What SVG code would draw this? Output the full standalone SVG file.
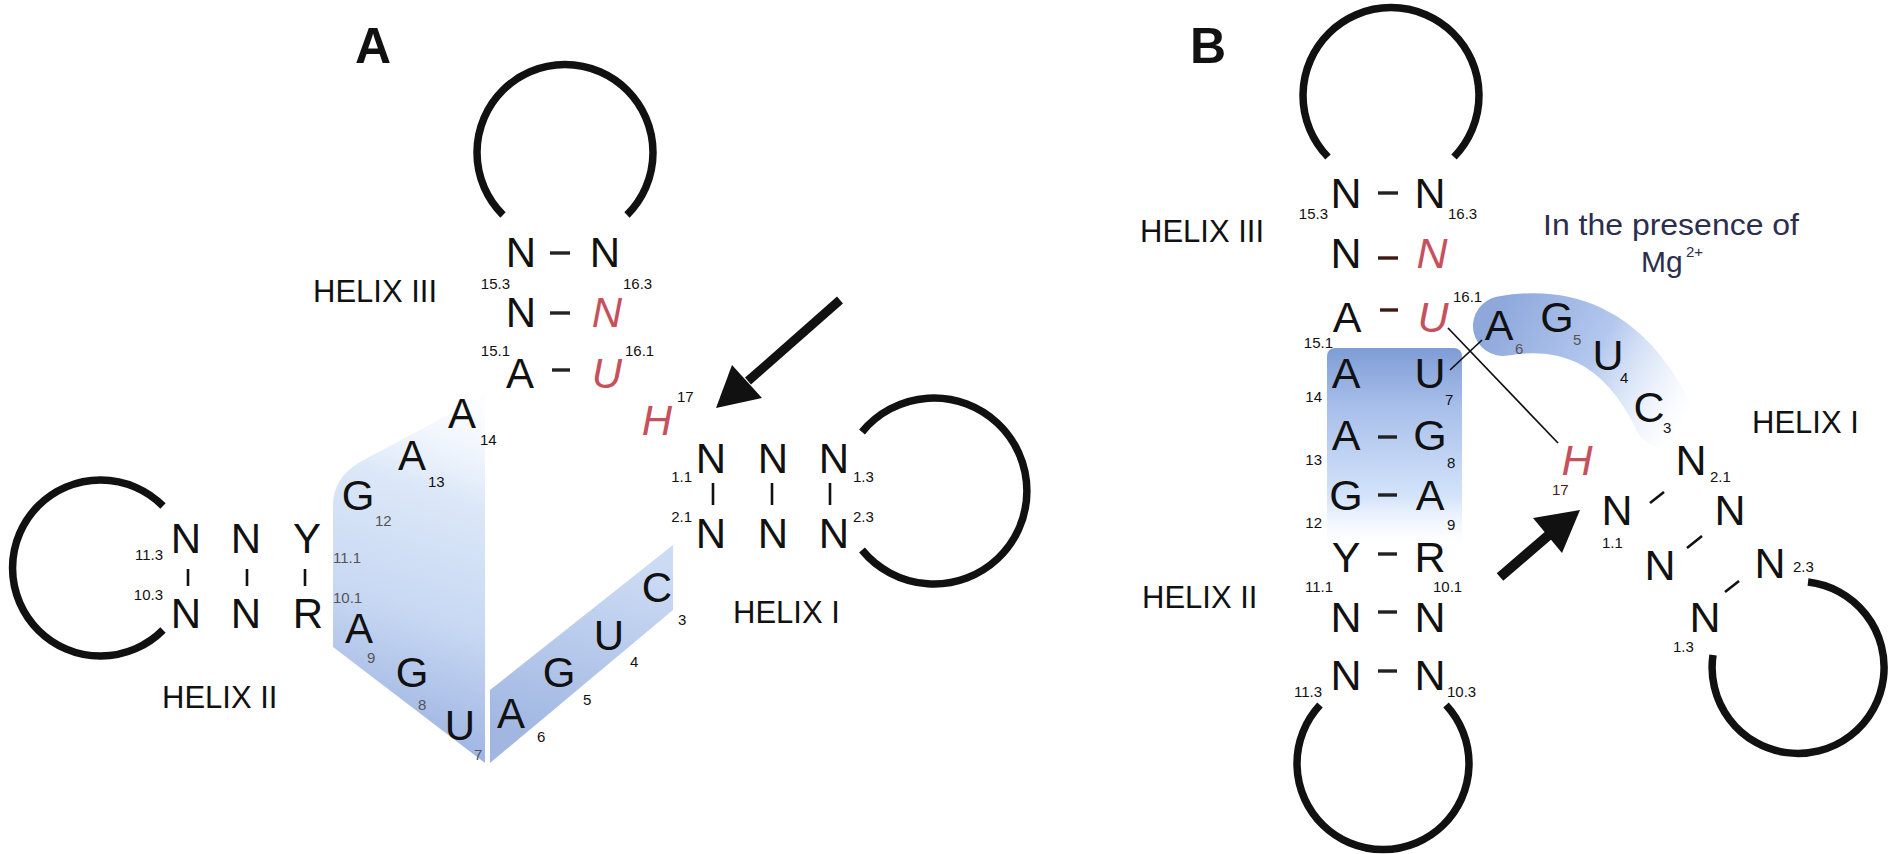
<svg xmlns="http://www.w3.org/2000/svg" width="1888" height="854" viewBox="0 0 1888 854">
<defs>
<style>
text{font-family:"Liberation Sans",Arial,sans-serif;fill:#111}
.b{font-size:42px;text-anchor:middle}
.bb{font-size:43px;text-anchor:middle}
.r{fill:#c6505c;font-style:italic}
.s{font-size:15px}
.g{fill:#555}
.e{text-anchor:end}
.h{font-size:31px}
.t{font-size:50px;font-weight:bold;text-anchor:middle}
.loop{fill:none;stroke:#111;stroke-width:7.5}
.d{stroke:#222;stroke-width:3.4}
.dr{stroke:#3b1a12;stroke-width:3.4}
.v{stroke:#111;stroke-width:2.6}
.thin{stroke:#111;stroke-width:1.7;fill:none}
</style>
<linearGradient id="gL" x1="485" y1="395" x2="380" y2="730" gradientUnits="userSpaceOnUse">
<stop offset="0" stop-color="#f4f8fe" stop-opacity="0.2"/>
<stop offset="0.3" stop-color="#dce8f8"/>
<stop offset="0.65" stop-color="#c8d8f3"/>
<stop offset="1" stop-color="#9fb5e2"/>
</linearGradient>
<linearGradient id="gR" x1="600" y1="560" x2="560" y2="740" gradientUnits="userSpaceOnUse">
<stop offset="0" stop-color="#ccdbf4"/>
<stop offset="1" stop-color="#a1b7e2"/>
</linearGradient>
<linearGradient id="gBox" x1="0" y1="348" x2="0" y2="545" gradientUnits="userSpaceOnUse">
<stop offset="0" stop-color="#7f9cd6"/>
<stop offset="0.3" stop-color="#a8bfea"/>
<stop offset="0.75" stop-color="#d3e3fa"/>
<stop offset="1" stop-color="#eaf2fd" stop-opacity="0"/>
</linearGradient>
<linearGradient id="gW" x1="1490" y1="320" x2="1680" y2="430" gradientUnits="userSpaceOnUse">
<stop offset="0" stop-color="#8ea8dc"/>
<stop offset="0.5" stop-color="#b4c8ee"/>
<stop offset="1" stop-color="#dfeafa" stop-opacity="0"/>
</linearGradient>
</defs>
<rect width="1888" height="854" fill="#ffffff"/>

<g id="panel-A-label"><text class="t" x="373" y="63">A</text></g>
<g id="panel-B-label"><text class="t" x="1208" y="63">B</text></g>

<!-- Panel A -->
<g id="A-blue">
<path d="M333 505 Q333 478 360 462 L485 395 L485 763 L333 647 Z" fill="url(#gL)"/>
<path d="M490 690 L673 545 L673 610 L490 763 Z" fill="url(#gR)"/>
</g>

<g id="A-helix-III">
<path class="loop" d="M503 215 A88 88 0 1 1 627 215"/>
<text class="b" x="521" y="267">N</text><line class="d" x1="550" y1="253" x2="570" y2="253"/><text class="b" x="605" y="267">N</text>
<text class="b" x="521" y="327">N</text><line class="d" x1="550" y1="313" x2="570" y2="313"/><text class="b r" x="607" y="327">N</text>
<text class="b" x="520" y="388">A</text><line class="d" x1="552" y1="370" x2="570" y2="370"/><text class="b r" x="607" y="388">U</text>
<text class="s e" x="510" y="289">15.3</text><text class="s" x="623" y="289">16.3</text>
<text class="s e" x="510" y="356">15.1</text><text class="s" x="625" y="356">16.1</text>
<text class="h" x="313" y="302">HELIX III</text>
</g>

<g id="A-helix-II">
<path class="loop" d="M163 506 A88 88 0 1 0 163 630"/>
<text class="b" x="186" y="553">N</text><text class="b" x="246" y="553">N</text><text class="b" x="307" y="553">Y</text>
<line class="v" x1="188" y1="569" x2="188" y2="586"/><line class="v" x1="247" y1="569" x2="247" y2="586"/><line class="v" x1="305" y1="569" x2="305" y2="586"/>
<text class="b" x="186" y="628">N</text><text class="b" x="246" y="628">N</text><text class="b" x="308" y="628">R</text>
<text class="s e" x="163" y="560">11.3</text><text class="s e" x="163" y="600">10.3</text>
<text class="s g" x="333" y="563">11.1</text><text class="s g" x="333" y="603">10.1</text>
<text class="h" x="162" y="708">HELIX II</text>
</g>

<g id="A-J23">
<text class="b" x="462" y="428">A</text><text class="s" x="480" y="445">14</text>
<text class="b" x="412" y="470">A</text><text class="s" x="428" y="487">13</text>
<text class="b" x="358" y="510">G</text><text class="s g" x="375" y="526">12</text>
<text class="b" x="359" y="643">A</text><text class="s g" x="367" y="663">9</text>
<text class="b" x="412" y="687">G</text><text class="s g" x="418" y="710">8</text>
<text class="b" x="460" y="740">U</text><text class="s g" x="474" y="760">7</text>
</g>

<g id="A-J12">
<text class="b" x="511" y="728">A</text><text class="s" x="537" y="742">6</text>
<text class="b" x="559" y="687">G</text><text class="s" x="583" y="705">5</text>
<text class="b" x="609" y="650">U</text><text class="s" x="630" y="667">4</text>
<text class="b" x="657" y="602">C</text><text class="s" x="678" y="625">3</text>
</g>

<g id="A-H17">
<text class="b r" x="657" y="435">H</text><text class="s" x="677" y="402">17</text>
</g>

<g id="A-helix-I">
<path class="loop" d="M862 432 A93 93 0 1 1 862 550"/>
<text class="b" x="711" y="473">N</text><text class="b" x="773" y="473">N</text><text class="b" x="834" y="473">N</text>
<line class="v" x1="713" y1="483" x2="713" y2="505"/><line class="v" x1="772" y1="483" x2="772" y2="505"/><line class="v" x1="830" y1="483" x2="830" y2="505"/>
<text class="b" x="711" y="548">N</text><text class="b" x="773" y="548">N</text><text class="b" x="834" y="548">N</text>
<text class="s e" x="692" y="482">1.1</text><text class="s e" x="692" y="522">2.1</text>
<text class="s" x="853" y="482">1.3</text><text class="s" x="853" y="522">2.3</text>
<text class="h" x="733" y="623">HELIX I</text>
</g>

<!-- Panel B -->
<g id="B-blue">
<rect x="1327" y="348" width="135" height="200" rx="8" fill="url(#gBox)"/>
<path d="M1503 326 C1560 316 1622 330 1664 418" fill="none" stroke="url(#gW)" stroke-width="60" stroke-linecap="round"/>
</g>

<g id="B-helix-III">
<path class="loop" d="M1328 157 A88 88 0 1 1 1454 157"/>
<text class="bb" x="1346" y="208">N</text><line class="d" x1="1378" y1="193" x2="1398" y2="193"/><text class="bb" x="1430" y="208">N</text>
<text class="bb" x="1346" y="268">N</text><line class="dr" x1="1378" y1="258" x2="1398" y2="258"/><text class="bb r" x="1432" y="268">N</text>
<text class="bb" x="1347" y="332">A</text><line class="dr" x1="1380" y1="310" x2="1398" y2="310"/><text class="bb r" x="1433" y="332">U</text>
<text class="s e" x="1328" y="219">15.3</text><text class="s" x="1448" y="219">16.3</text>
<text class="s" x="1453" y="302">16.1</text><text class="s e" x="1333" y="348">15.1</text>
<text class="h" x="1140" y="242">HELIX III</text>
</g>

<g id="B-helix-II">
<text class="bb" x="1346" y="388">A</text><text class="bb" x="1430" y="388">U</text>
<text class="s e" x="1322" y="402">14</text><text class="s" x="1445" y="405">7</text>
<text class="bb" x="1346" y="450">A</text><line class="d" x1="1378" y1="437" x2="1397" y2="437"/><text class="bb" x="1430" y="450">G</text>
<text class="s e" x="1322" y="465">13</text><text class="s" x="1447" y="468">8</text>
<text class="bb" x="1346" y="510">G</text><line class="d" x1="1378" y1="495" x2="1397" y2="495"/><text class="bb" x="1430" y="510">A</text>
<text class="s e" x="1322" y="528">12</text><text class="s" x="1447" y="530">9</text>
<text class="bb" x="1346" y="572">Y</text><line class="d" x1="1378" y1="554" x2="1397" y2="554"/><text class="bb" x="1430" y="572">R</text>
<text class="s e" x="1333" y="592">11.1</text><text class="s" x="1433" y="592">10.1</text>
<text class="bb" x="1346" y="632">N</text><line class="d" x1="1378" y1="612" x2="1397" y2="612"/><text class="bb" x="1430" y="632">N</text>
<text class="bb" x="1346" y="690">N</text><line class="d" x1="1378" y1="671" x2="1397" y2="671"/><text class="bb" x="1430" y="690">N</text>
<text class="s e" x="1322" y="697">11.3</text><text class="s" x="1447" y="697">10.3</text>
<path class="loop" d="M1320 705 A86 86 0 1 0 1446 705"/>
<text class="h" x="1142" y="608">HELIX II</text>
</g>

<g id="B-J12">
<text class="bb" x="1499" y="340">A</text><text class="s g" x="1515" y="354">6</text>
<text class="bb" x="1557" y="332">G</text><text class="s g" x="1573" y="345">5</text>
<text class="bb" x="1608" y="370">U</text><text class="s" x="1620" y="383">4</text>
<text class="bb" x="1649" y="422">C</text><text class="s" x="1663" y="433">3</text>
</g>

<g id="B-H17">
<text class="bb r" x="1577" y="475">H</text><text class="s" x="1552" y="495" style="fill:#4a1a14">17</text>
</g>

<g id="B-helix-I">
<text class="bb" x="1691" y="475">N</text><text class="s" x="1710" y="482">2.1</text>
<text class="bb" x="1617" y="525">N</text><text class="s" x="1602" y="548">1.1</text>
<text class="bb" x="1730" y="525">N</text>
<text class="bb" x="1660" y="580">N</text>
<text class="bb" x="1770" y="578">N</text><text class="s" x="1793" y="572">2.3</text>
<text class="bb" x="1705" y="632">N</text><text class="s" x="1673" y="652">1.3</text>
<line class="v" x1="1650" y1="503" x2="1664" y2="492"/>
<line class="v" x1="1687" y1="548" x2="1702" y2="536"/>
<line class="v" x1="1725" y1="592" x2="1739" y2="581"/>
<path class="loop" d="M1808 582 A86 86 0 1 1 1713 655"/>
<text class="h" x="1752" y="433">HELIX I</text>
</g>

<g id="B-note">
<text x="1543" y="235" font-size="30" textLength="256" lengthAdjust="spacingAndGlyphs" style="fill:#2d2d4d">In the presence of</text>
<text x="1641" y="272" font-size="30" style="fill:#2d2d4d">Mg</text>
<text x="1686" y="257" font-size="15" style="fill:#2d2d4d">2+</text>
</g>

<g id="connectors">
<line x1="840" y1="300" x2="748" y2="381" stroke="#111" stroke-width="9"/>
<polygon points="716,408 732,365 762,398" fill="#111"/>
<line x1="1500" y1="577" x2="1550" y2="534" stroke="#111" stroke-width="10"/>
<polygon points="1580,510 1533,518 1562,553" fill="#111"/>
<line class="thin" x1="1448" y1="328" x2="1558" y2="443"/>
<line class="thin" x1="1450" y1="370" x2="1482" y2="340"/>
</g>
</svg>
